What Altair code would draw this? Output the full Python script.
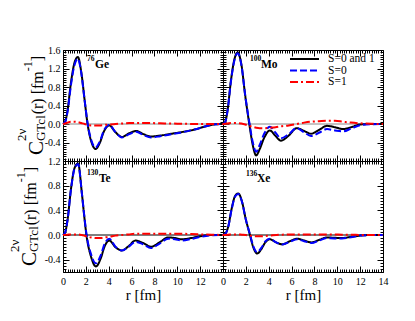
import altair as alt
import pandas as pd

# ---------------- data ----------------
SERIES = ["S=0 and 1", "S=0", "S=1"]
COLORS = ["#000000", "#0000ff", "#ff0000"]
DASHES = [[1, 0], [7, 3], [8, 3, 2, 3]]

GE_R = [0, 0.2, 0.4, 0.7, 1.0, 1.3, 1.6, 1.9, 2.15, 2.5, 2.85, 3.2, 3.6, 4.05, 4.6, 5.15, 5.8, 6.4, 7.05, 7.7, 8.5, 9.5, 10.5, 11.5, 12.5, 13.2, 14]
GE_TOT = [0, 0.06, 0.3, 0.9, 1.32, 1.45, 1.12, 0.5, 0.0, -0.4, -0.54, -0.42, -0.15, -0.03, -0.18, -0.28, -0.2, -0.15, -0.22, -0.27, -0.25, -0.21, -0.17, -0.12, -0.05, -0.01, 0]
GE_S0 = [0, 0.05, 0.27, 0.85, 1.27, 1.41, 1.1, 0.5, 0.02, -0.37, -0.51, -0.39, -0.13, -0.02, -0.18, -0.29, -0.22, -0.17, -0.24, -0.29, -0.265, -0.22, -0.175, -0.12, -0.05, -0.01, 0]
GE_S1 = [0, 0.01, 0.03, 0.05, 0.05, 0.04, 0.02, 0.0, -0.02, -0.03, -0.03, -0.03, -0.02, -0.01, 0.0, 0.01, 0.02, 0.02, 0.02, 0.02, 0.015, 0.01, 0.005, 0.0, 0, 0, 0]

MO_R = [0, 0.2, 0.4, 0.7, 1.0, 1.28, 1.6, 1.95, 2.3, 2.6, 2.9, 3.2, 3.6, 4.1, 4.6, 5.07, 5.75, 6.45, 7.1, 7.7, 8.4, 9.1, 9.8, 10.5, 11.2, 12, 13, 14]
MO_TOT = [0, 0.05, 0.3, 0.95, 1.4, 1.55, 1.3, 0.6, 0.0, -0.45, -0.68, -0.55, -0.3, -0.14, -0.26, -0.36, -0.25, -0.09, -0.15, -0.21, -0.13, -0.04, -0.07, -0.11, -0.07, -0.01, 0, 0]
MO_S0 = [0, 0.045, 0.29, 0.93, 1.38, 1.53, 1.29, 0.61, 0.04, -0.39, -0.6, -0.46, -0.21, -0.06, -0.19, -0.31, -0.22, -0.09, -0.18, -0.26, -0.19, -0.11, -0.14, -0.16, -0.1, -0.025, -0.005, 0]
MO_S1 = [0, 0.005, 0.01, 0.02, 0.02, 0.02, 0.01, -0.01, -0.04, -0.06, -0.08, -0.09, -0.09, -0.08, -0.07, -0.05, -0.03, 0.0, 0.03, 0.05, 0.06, 0.07, 0.07, 0.05, 0.03, 0.015, 0.005, 0]

TE_R = [0, 0.2, 0.4, 0.7, 1.0, 1.32, 1.65, 1.85, 2.05, 2.45, 2.88, 3.3, 3.65, 4.05, 4.6, 5.16, 5.75, 6.34, 7.0, 7.7, 8.45, 9.2, 9.8, 10.4, 11.2, 12, 13, 14]
TE_TOT = [0, 0.05, 0.25, 0.75, 1.08, 1.16, 0.68, 0.32, 0.0, -0.35, -0.51, -0.38, -0.18, -0.09, -0.2, -0.25, -0.18, -0.09, -0.13, -0.19, -0.12, -0.04, -0.05, -0.07, -0.05, -0.02, 0, 0]
TE_S0 = [0, 0.048, 0.245, 0.74, 1.07, 1.15, 0.68, 0.33, 0.02, -0.31, -0.46, -0.33, -0.14, -0.06, -0.19, -0.25, -0.19, -0.11, -0.15, -0.21, -0.14, -0.06, -0.07, -0.09, -0.065, -0.03, -0.005, 0]
TE_S1 = [0, 0.002, 0.005, 0.01, 0.01, 0.01, 0.0, -0.01, -0.02, -0.04, -0.05, -0.05, -0.04, -0.03, -0.01, 0.0, 0.01, 0.02, 0.02, 0.02, 0.02, 0.02, 0.02, 0.02, 0.015, 0.01, 0.005, 0]

XE_R = [0, 0.2, 0.45, 0.75, 1.05, 1.34, 1.65, 2.0, 2.36, 2.65, 2.99, 3.35, 3.7, 4.1, 4.65, 5.2, 5.85, 6.5, 7.1, 7.75, 8.4, 9.1, 9.75, 10.4, 11.2, 12, 13, 14]
XE_TOT = [0, 0.02, 0.13, 0.42, 0.63, 0.675, 0.55, 0.25, 0.0, -0.2, -0.3, -0.23, -0.12, -0.07, -0.12, -0.15, -0.1, -0.06, -0.09, -0.12, -0.08, -0.04, -0.045, -0.05, -0.03, -0.01, 0, 0]
XE_S0 = [0, 0.018, 0.125, 0.41, 0.62, 0.665, 0.545, 0.25, 0.01, -0.18, -0.28, -0.21, -0.105, -0.06, -0.12, -0.155, -0.11, -0.07, -0.1, -0.13, -0.09, -0.05, -0.055, -0.055, -0.035, -0.01, 0, 0]
XE_S1 = [0, 0.002, 0.005, 0.01, 0.01, 0.01, 0.005, 0.0, -0.01, -0.02, -0.02, -0.02, -0.015, -0.01, 0.0, 0.005, 0.01, 0.01, 0.01, 0.01, 0.01, 0.01, 0.01, 0.005, 0.005, 0, 0, 0]

X_LABELS_LEFT = [0, 2, 4, 6, 8, 10, 12]
X_LABELS_RIGHT = [0, 2, 4, 6, 8, 10, 12, 14]
Y_LABELS_TOP = [-0.4, 0.0, 0.4, 0.8, 1.2, 1.6]
Y_LABELS_BOTTOM = [-0.4, 0.0, 0.4, 0.8, 1.2]

# ---------------- styling ----------------
FONT = "Liberation Serif"
W, H = 160, 111
TIMES = {'C': 0.667, '2': 0.5, 'ν': 0.5, 'G': 0.722, 'T': 0.611, 'c': 0.444, 'l': 0.278,
         '(': 0.333, 'r': 0.333, ')': 0.333, ' ': 0.25, '[': 0.333, 'f': 0.333, 'm': 0.778,
         '-': 0.333, '1': 0.5, ']': 0.333}


def tw(s, size):
    return sum(TIMES.get(ch, 0.5) for ch in s) * size


def frame(r, tot, s0, s1):
    rows = []
    for name, vals in zip(SERIES, [tot, s0, s1]):
        for x, y in zip(r, vals):
            rows.append({"r": x, "v": y, "s": name})
    return pd.DataFrame(rows)


def txt(s, x, y, size, bold=False, angle=0, align="left", baseline="alphabetic"):
    return alt.Chart(pd.DataFrame({"t": [s]})).mark_text(
        align=align, baseline=baseline, fontSize=size, font=FONT,
        fontWeight="bold" if bold else "normal", angle=angle, color="black"
    ).encode(x=alt.value(x), y=alt.value(y), text="t:N")


def ytitle(base_x, center_y):
    groups = [
        [("C", 21, 0)],
        [("2ν", 13, -17), ("GTcl", 13, 2)],
        [("(r) [fm", 16, 0)],
        [("-1", 12, -11)],
        [("]", 16, 0)],
    ]
    total = sum(max(tw(t, s) for t, s, _ in g) for g in groups)
    pos = center_y + total / 2
    out = []
    for g in groups:
        for t, s, sh in g:
            out.append(txt(t, base_x + sh, pos, s, angle=270))
        pos -= max(tw(t, s) for t, s, _ in g)
    return out


def tick_axis(orient, offset, values, test):
    return alt.Axis(orient=orient, offset=offset, values=values, labels=False, domain=False,
                    grid=False, ticks=True, tickColor="black", tickWidth=1,
                    tickSize={"condition": {"test": test, "value": 6}, "value": 3}, title=None)


def panel(df, ydom, xlabels, ylabels, zero_color, extras):
    xs = alt.Scale(domain=[0, 14], nice=False, zero=False)
    ys = alt.Scale(domain=ydom, nice=False, zero=False)
    xmin = [round(0.2 * i, 2) for i in range(71)]
    ny = int(round((ydom[1] - ydom[0]) / 0.05))
    ymin = [round(ydom[0] + 0.05 * i, 3) for i in range(ny + 1)]
    xt = "abs(datum.value/2 - round(datum.value/2)) < 0.01"
    yt = "abs(datum.value/0.4 - round(datum.value/0.4)) < 0.01"

    if xlabels:
        xaxis = alt.Axis(orient="bottom", values=xlabels, ticks=False, domain=False, grid=False,
                         labelFlush=False, labelOverlap=False, labelPadding=4, labelFontSize=10,
                         labelFont=FONT, labelColor="black", format="d", title="r [fm]",
                         titleFont=FONT, titleFontSize=15, titleFontWeight="normal",
                         titleColor="black", titlePadding=1)
    else:
        xaxis = None
    if ylabels:
        yaxis = alt.Axis(orient="left", values=ylabels, ticks=False, domain=False, grid=False,
                         labelFlush=False, labelOverlap=False, labelPadding=3, labelFontSize=10,
                         labelFont=FONT, labelColor="black",
                         labelExpr="replace(format(datum.value, '.1f'), '\u2212', '-')", title=None)
    else:
        yaxis = None

    layers = [
        alt.Chart(pd.DataFrame({"z": [0.0]})).mark_rule(color=zero_color, strokeWidth=1)
        .encode(y=alt.Y("z:Q", scale=ys, axis=None))
    ]
    for i, (name, col, dash) in enumerate(zip(SERIES, COLORS, DASHES)):
        sub = df[df.s == name]
        layers.append(
            alt.Chart(sub).mark_line(color=col, strokeWidth=2, strokeDash=dash, interpolate="monotone")
            .encode(x=alt.X("r:Q", scale=xs, axis=xaxis if i == 0 else None),
                    y=alt.Y("v:Q", scale=ys, axis=yaxis if i == 0 else None))
        )
    inv = df[df.s == SERIES[0]]
    layers.append(
        alt.Chart(inv).mark_line(strokeOpacity=0)
        .encode(x=alt.X("r:Q", scale=xs, axis=tick_axis("top", -H, xmin, xt)),
                y=alt.Y("v:Q", scale=ys, axis=tick_axis("right", -W, ymin, yt)))
    )
    layers.append(
        alt.Chart(inv).mark_line(strokeOpacity=0)
        .encode(x=alt.X("r:Q", scale=xs, axis=tick_axis("bottom", -H, xmin, xt)),
                y=alt.Y("v:Q", scale=ys, axis=tick_axis("left", -W, ymin, yt)))
    )
    layers += extras
    return alt.layer(*layers).resolve_axis(x="independent", y="independent").properties(width=W, height=H)


def nucleus(sup, main, xs, xm, yb_sup, yb_main):
    return [txt(sup, xs, yb_sup, 7.5, bold=True), txt(main, xm, yb_main, 11.5, bold=True)]


legend = []
for k, (name, col, dash) in enumerate(zip(SERIES, COLORS, DASHES)):
    yy = 9 + 11.5 * k
    legend.append(
        alt.Chart(pd.DataFrame({"a": [0]})).mark_rule(color=col, strokeWidth=2, strokeDash=dash)
        .encode(x=alt.value(67), x2=alt.value(96), y=alt.value(yy))
    )
    legend.append(txt(name, 105, yy, 11.5, baseline="middle"))

ge = panel(frame(GE_R, GE_TOT, GE_S0, GE_S1), [-0.8, 1.6], None, Y_LABELS_TOP, "#888888",
           nucleus("76", "Ge", 24, 32, 11, 18) + ytitle(-20, H / 2))
mo = panel(frame(MO_R, MO_TOT, MO_S0, MO_S1), [-0.8, 1.6], None, None, "#888888",
           nucleus("100", "Mo", 27, 38, 11, 18) + legend)
te = panel(frame(TE_R, TE_TOT, TE_S0, TE_S1), [-0.6, 1.2], X_LABELS_LEFT, Y_LABELS_BOTTOM, "#000000",
           nucleus("130", "Te", 24, 36, 14, 21) + ytitle(-27, H / 2))
xe = panel(frame(XE_R, XE_TOT, XE_S0, XE_S1), [-0.6, 1.2], X_LABELS_RIGHT, None, "#000000",
           nucleus("136", "Xe", 23, 34, 15, 21))

chart = (
    alt.concat(ge, mo, te, xe, columns=2, spacing=0, bounds="flush")
    .resolve_scale(x="independent", y="independent")
    .properties(padding={"left": 0, "top": 36, "right": 5, "bottom": 5}, background="white")
    .configure_view(stroke="black", strokeWidth=1)
)

chart.save("out.html", embed_options={"renderer": "svg", "actions": False})
